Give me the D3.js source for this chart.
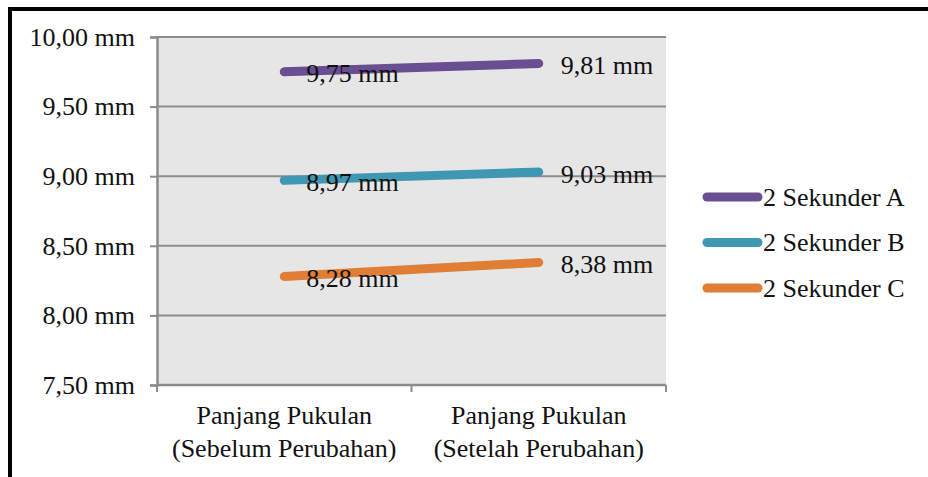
<!DOCTYPE html>
<html>
<head>
<meta charset="utf-8">
<script src="https://cdn.jsdelivr.net/npm/d3@7"></script>
<style>
  html, body { margin: 0; padding: 0; background: #fff; }
  svg { display: block; }
  text { font-family: "Liberation Serif", "Times New Roman", serif; fill: #111; }
</style>
</head>
<body>
<svg id="chart" width="928" height="477"></svg>
<script>
// Stroke length per condition, three 2-second series
const categories = [["Panjang Pukulan", "(Sebelum Perubahan)"], ["Panjang Pukulan", "(Setelah Perubahan)"]];
const seriesNames = ["2 Sekunder A", "2 Sekunder B", "2 Sekunder C"];
const seriesA = [9.75, 9.81];
const seriesB = [8.97, 9.03];
const seriesC = [8.28, 8.38];
const seriesColors = ["#6a4e92", "#4097b1", "#e07e35"];
const yTicks = [7.5, 8.0, 8.5, 9.0, 9.5, 10.0];

const series = [seriesA, seriesB, seriesC].map((values, i) => ({ name: seriesNames[i], values, color: seriesColors[i] }));

const fmt = v => d3.format(".2f")(v).replace(".", ",") + " mm";

const svg = d3.select("#chart");
const plot = { left: 157, right: 666, top: 37, bottom: 385 };

// Frame lines along the left and top edges
svg.append("line").attr("x1", 10).attr("x2", 10).attr("y1", 7).attr("y2", 477)
  .attr("stroke", "#000").attr("stroke-width", 4);
svg.append("line").attr("x1", 8).attr("x2", 928).attr("y1", 9).attr("y2", 9)
  .attr("stroke", "#000").attr("stroke-width", 4);

const x = d3.scaleBand().domain(d3.range(categories.length)).range([plot.left, plot.right]);
const y = d3.scaleLinear().domain([7.5, 10]).range([plot.bottom, plot.top]);

// Plot background
svg.append("rect").attr("x", plot.left).attr("y", plot.top)
  .attr("width", plot.right - plot.left).attr("height", plot.bottom - plot.top)
  .attr("fill", "#e6e6e6");

// Horizontal gridlines
svg.append("g").selectAll("line").data(yTicks.filter(t => t > 7.5)).join("line")
  .attr("x1", plot.left).attr("x2", plot.right)
  .attr("y1", d => y(d)).attr("y2", d => y(d))
  .attr("stroke", "#8c8c8c").attr("stroke-width", 2);

// Y axis
const yAxis = svg.append("g").attr("transform", `translate(${plot.left},0)`)
  .call(d3.axisLeft(y).tickValues(yTicks).tickSize(7).tickPadding(15).tickFormat(fmt));
yAxis.selectAll("line").attr("stroke", "#8c8c8c").attr("stroke-width", 2);
yAxis.select(".domain").attr("stroke", "#8c8c8c").attr("stroke-width", 2.5);
yAxis.selectAll("text").attr("font-size", 26).attr("fill", "#111")
  .attr("font-family", "Liberation Serif, Times New Roman, serif");

// X axis: tick marks at category boundaries
const xAxisG = svg.append("g");
xAxisG.append("line").attr("x1", plot.left).attr("x2", plot.right)
  .attr("y1", plot.bottom).attr("y2", plot.bottom)
  .attr("stroke", "#8c8c8c").attr("stroke-width", 2.5);
const bounds = d3.range(categories.length + 1).map(i => i < categories.length ? x(i) : x(i - 1) + x.bandwidth());
xAxisG.selectAll("line.tick").data(bounds).join("line").attr("class", "tick")
  .attr("x1", d => d).attr("x2", d => d)
  .attr("y1", plot.bottom).attr("y2", plot.bottom + 7)
  .attr("stroke", "#8c8c8c").attr("stroke-width", 2);

const xLabels = xAxisG.selectAll("text.cat").data(categories).join("text").attr("class", "cat")
  .attr("text-anchor", "middle").attr("font-size", 26);
xLabels.each(function (lines, i) {
  const t = d3.select(this);
  lines.forEach((ln, j) => {
    t.append("tspan").attr("x", x(i) + x.bandwidth() / 2).attr("y", 424 + j * 33).text(ln);
  });
});

// Series lines
const line = d3.line().x((d, i) => x(i) + x.bandwidth() / 2).y(d => y(d));
svg.append("g").selectAll("path").data(series).join("path")
  .attr("d", d => line(d.values))
  .attr("fill", "none").attr("stroke", d => d.color)
  .attr("stroke-width", 9).attr("stroke-linecap", "round");

// Data labels to the right of each point
svg.append("g").selectAll("g").data(series).join("g")
  .selectAll("text").data(d => d.values).join("text")
  .attr("x", (d, i) => x(i) + x.bandwidth() / 2 + 22)
  .attr("y", d => y(d) + 2)
  .attr("dy", "0.33em")
  .attr("font-size", 26)
  .text(d => fmt(d));

// Legend
const legend = svg.append("g").selectAll("g").data(series).join("g")
  .attr("transform", (d, i) => `translate(0,${197 + i * 45.5})`);
legend.append("line").attr("x1", 707).attr("x2", 758).attr("y1", 0).attr("y2", 0)
  .attr("stroke", d => d.color).attr("stroke-width", 9).attr("stroke-linecap", "round");
legend.append("text").attr("x", 763).attr("y", 0).attr("dy", "0.33em")
  .attr("font-size", 26).text(d => d.name);
</script>
</body>
</html>
